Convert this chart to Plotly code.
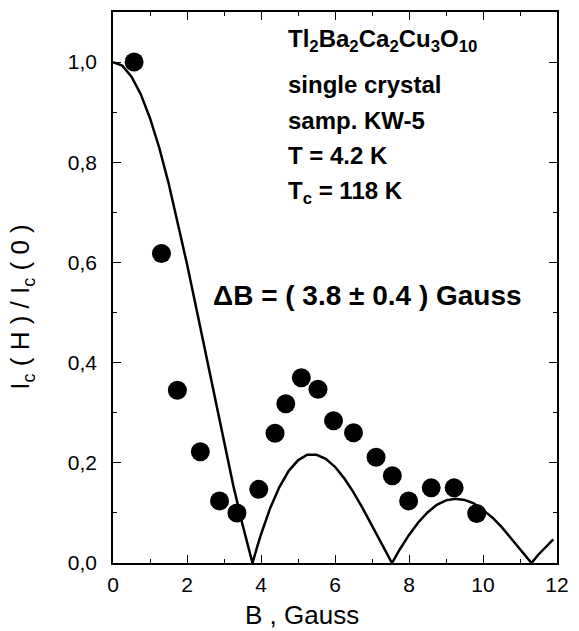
import plotly.graph_objects as go

# Measured critical current, normalised to zero field
b_meas = [0.57, 1.31, 1.74, 2.36, 2.88, 3.35, 3.94, 4.38, 4.67, 5.09, 5.54,
          5.96, 6.50, 7.11, 7.55, 7.99, 8.60, 9.22, 9.83]
ic_meas = [1.00, 0.618, 0.345, 0.222, 0.124, 0.100, 0.147, 0.259, 0.318, 0.370,
           0.347, 0.284, 0.260, 0.211, 0.174, 0.124, 0.150, 0.150, 0.099]

# Fraunhofer-type fit curve
b_fit = [0.0, 0.25, 0.5, 0.75, 1.0, 1.25, 1.5, 1.75, 2.0, 2.25, 2.5, 2.75, 3.0,
         3.25, 3.5, 3.65, 3.77, 3.9, 4.0, 4.25, 4.5, 4.75, 5.0, 5.25, 5.5, 5.75,
         6.0, 6.25, 6.5, 6.75, 7.0, 7.25, 7.4, 7.54, 7.75, 8.0, 8.25, 8.5, 8.75,
         9.0, 9.25, 9.5, 9.75, 10.0, 10.25, 10.5, 10.75, 11.0, 11.15, 11.31,
         11.5, 11.75, 11.9]
ic_fit = [1.000, 0.993, 0.971, 0.936, 0.888, 0.829, 0.759, 0.681, 0.597, 0.509,
          0.419, 0.328, 0.239, 0.155, 0.077, 0.033, 0.0, 0.033, 0.057, 0.110,
          0.152, 0.184, 0.205, 0.216, 0.216, 0.208, 0.192, 0.169, 0.141, 0.109,
          0.075, 0.040, 0.019, 0.0, 0.027, 0.056, 0.081, 0.101, 0.116, 0.125,
          0.128, 0.126, 0.119, 0.106, 0.091, 0.072, 0.050, 0.028, 0.014, 0.0,
          0.017, 0.037, 0.047]

x_ticks = [0, 2, 4, 6, 8, 10, 12]
y_ticks = [0.0, 0.2, 0.4, 0.6, 0.8, 1.0]

info_lines = [
    "Tl<sub>2</sub>Ba<sub>2</sub>Ca<sub>2</sub>Cu<sub>3</sub>O<sub>10</sub>",
    "single crystal",
    "samp. KW-5",
    "T = 4.2 K",
    "T<sub>c</sub> = 118 K",
]
info_y = [1.044, 0.955, 0.884, 0.813, 0.740]
delta_text = "\u0394B = ( 3.8 \u00b1 0.4 ) Gauss"

FONT = "Liberation Sans, Arial, sans-serif"

fig = go.Figure()
fig.add_trace(go.Scatter(
    x=b_fit, y=ic_fit, mode="lines",
    line=dict(color="black", width=2.5),
    showlegend=False, hoverinfo="skip",
))
fig.add_trace(go.Scatter(
    x=b_meas, y=ic_meas, mode="markers",
    marker=dict(color="black", size=19, symbol="circle"),
    showlegend=False,
))

for text, yv in zip(info_lines, info_y):
    fig.add_annotation(
        x=4.67, y=yv, xref="x", yref="y", text=text, showarrow=False,
        xanchor="left", yanchor="middle",
        font=dict(family=FONT, size=24, color="black", weight="bold"),
    )
fig.add_annotation(
    x=2.65, y=0.535, xref="x", yref="y", text=delta_text, showarrow=False,
    xanchor="left", yanchor="middle",
    font=dict(family=FONT, size=28, color="black", weight="bold"),
)

# axis titles
fig.add_annotation(
    x=0.4267, y=-0.094, xref="paper", yref="paper", text="B , Gauss",
    showarrow=False, xanchor="center", yanchor="middle",
    font=dict(family=FONT, size=26, color="black"),
)
fig.add_annotation(
    x=-0.205, y=0.465, xref="paper", yref="paper",
    text="I<sub>c</sub> ( H ) / I<sub>c</sub> ( 0 )",
    textangle=-90, showarrow=False, xanchor="center", yanchor="middle",
    font=dict(family=FONT, size=26, color="black"),
)

axis_common = dict(
    showgrid=False, zeroline=False, showline=True, linecolor="black",
    linewidth=1.6, mirror="ticks", ticks="inside", ticklen=8, tickwidth=1.3,
    tickcolor="black", tickfont=dict(family=FONT, size=21, color="black"),
)
fig.update_xaxes(
    range=[0, 12], tickvals=x_ticks, tickformat="d",
    minor=dict(ticks="inside", dtick=1, ticklen=4, tickwidth=1.2, tickcolor="black"),
    ticklabelstandoff=2,
    **axis_common,
)
fig.update_yaxes(
    range=[0, 1.1], tickvals=y_ticks, tickformat=".1f",
    minor=dict(ticks="inside", dtick=0.1, ticklen=4, tickwidth=1.2, tickcolor="black"),
    ticklabelstandoff=10,
    **axis_common,
)

fig.update_layout(
    width=579, height=631,
    margin=dict(l=113, r=16, t=10, b=68),
    paper_bgcolor="white", plot_bgcolor="white",
    separators=",.",
    font=dict(family=FONT, color="black"),
)

fig.write_html("out.html")
